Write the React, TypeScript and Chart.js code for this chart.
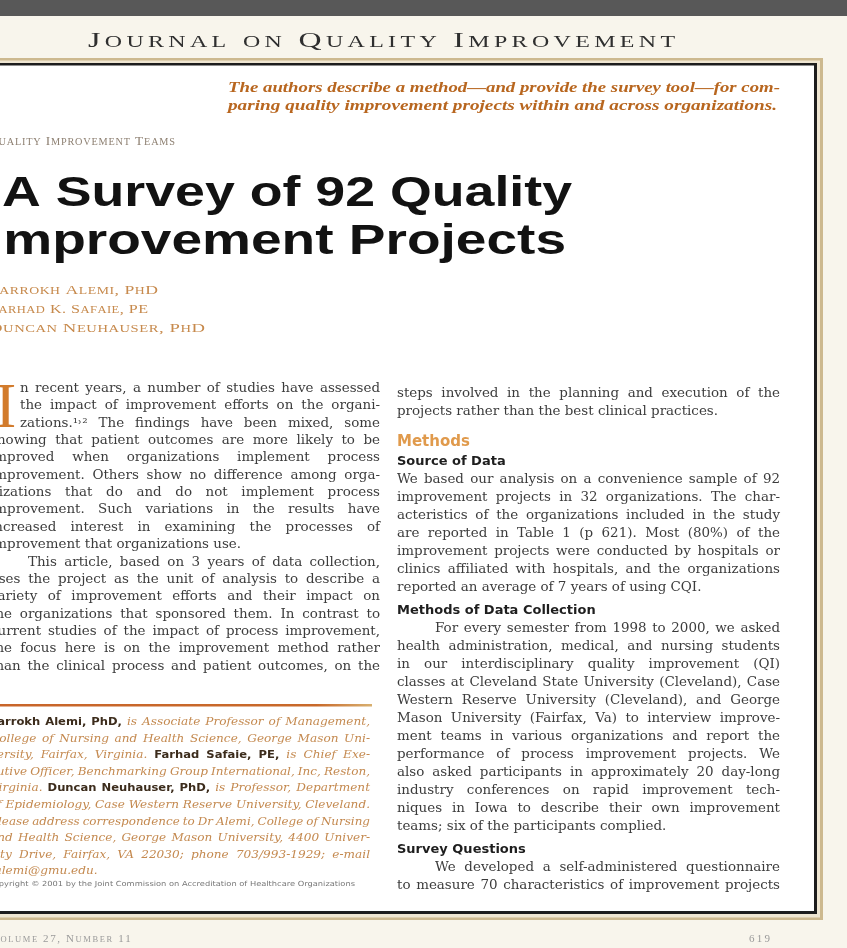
import React, { useEffect, useRef } from "react";
import { Chart, registerables } from "chart.js";

Chart.register(...registerables);

// ---------- content ----------
const journalName = "Journal on Quality Improvement";
const deckLines = [
  "The authors describe a method\u2014and provide the survey tool\u2014for com-",
  "paring quality improvement projects within and across organizations.",
];
const departmentLabel = "Quality Improvement Teams";
const titleLines = ["A Survey of 92 Quality", "Improvement Projects"];
const authorLines = ["Farrokh Alemi, PhD", "Farhad K. Safaie, PE", "Duncan Neuhauser, PhD"];
const dropCapLetter = "I";

const leftParagraphs = [
  {
    indent: false,
    ends: true,
    lines: [
      "n recent years, a number of studies have assessed",
      "the impact of improvement efforts on the organi-",
      "zations.\u00b9\u02d2\u00b2 The findings have been mixed, some",
      "showing that patient outcomes are more likely to be",
      "improved when organizations implement process",
      "improvement. Others show no difference among orga-",
      "nizations that do and do not implement process",
      "improvement. Such variations in the results have",
      "increased interest in examining the processes of",
      "improvement that organizations use.",
    ],
  },
  {
    indent: true,
    ends: false,
    lines: [
      "This article, based on 3 years of data collection,",
      "uses the project as the unit of analysis to describe a",
      "variety of improvement efforts and their impact on",
      "the organizations that sponsored them. In contrast to",
      "current studies of the impact of process improvement,",
      "the focus here is on the improvement method rather",
      "than the clinical process and patient outcomes, on the",
    ],
  },
];

const footnoteLines = [
  "**Farrokh Alemi, PhD,** is Associate Professor of Management,",
  "College of Nursing and Health Science, George Mason Uni-",
  "versity, Fairfax, Virginia. **Farhad Safaie, PE,** is Chief Exe-",
  "cutive Officer, Benchmarking Group International, Inc, Reston,",
  "Virginia. **Duncan Neuhauser, PhD,** is Professor, Department",
  "of Epidemiology, Case Western Reserve University, Cleveland.",
  "Please address correspondence to Dr Alemi, College of Nursing",
  "and Health Science, George Mason University, 4400 Univer-",
  "sity Drive, Fairfax, VA 22030; phone 703/993-1929; e-mail",
  "falemi@gmu.edu.",
];
const copyrightLine =
  "Copyright \u00a9 2001 by the Joint Commission on Accreditation of Healthcare Organizations";

const rightColumn = [
  {
    type: "para",
    indent: false,
    ends: true,
    lines: [
      "steps involved in the planning and execution of the",
      "projects rather than the best clinical practices.",
    ],
  },
  { type: "section", text: "Methods" },
  { type: "subhead", text: "Source of Data" },
  {
    type: "para",
    indent: false,
    ends: true,
    lines: [
      "We based our analysis on a convenience sample of 92",
      "improvement projects in 32 organizations. The char-",
      "acteristics of the organizations included in the study",
      "are reported in Table 1 (p 621). Most (80%) of the",
      "improvement projects were conducted by hospitals or",
      "clinics affiliated with hospitals, and the organizations",
      "reported an average of 7 years of using CQI.",
    ],
  },
  { type: "subhead", text: "Methods of Data Collection" },
  {
    type: "para",
    indent: true,
    ends: true,
    lines: [
      "For every semester from 1998 to 2000, we asked",
      "health administration, medical, and nursing students",
      "in our interdisciplinary quality improvement (QI)",
      "classes at Cleveland State University (Cleveland), Case",
      "Western Reserve University (Cleveland), and George",
      "Mason University (Fairfax, Va) to interview improve-",
      "ment teams in various organizations and report the",
      "performance of process improvement projects. We",
      "also asked participants in approximately 20 day-long",
      "industry conferences on rapid improvement tech-",
      "niques in Iowa to describe their own improvement",
      "teams; six of the participants complied.",
    ],
  },
  { type: "subhead", text: "Survey Questions" },
  {
    type: "para",
    indent: true,
    ends: false,
    lines: [
      "We developed a self-administered questionnaire",
      "to measure 70 characteristics of improvement projects",
    ],
  },
];

const footerLeft = "Volume 27, Number 11";
const footerPage = "619";

// ---------- drawing helpers ----------
const W = 847;
const H = 948;

type Seg = { text: string; font: string; color: string };

function drawLine(
  ctx: CanvasRenderingContext2D,
  segs: Seg[],
  x: number,
  y: number,
  width: number,
  justify: boolean,
  stretch = 1
) {
  const words: { text: string; font: string; color: string; w: number }[] = [];
  for (const s of segs) {
    ctx.font = s.font;
    for (const part of s.text.split(" ")) {
      if (!part) continue;
      words.push({ text: part, font: s.font, color: s.color, w: ctx.measureText(part).width });
    }
  }
  if (!words.length) return;
  ctx.font = segs[0].font;
  const space = ctx.measureText(" ").width;
  const sumW = words.reduce((a, b) => a + b.w, 0);
  const n = words.length;
  let gap = space;
  let scale = stretch;
  const natural = sumW + space * (n - 1);
  if (justify && n > 1) {
    scale = Math.min(stretch, width / (sumW + 0.8 * space * (n - 1)));
    gap = (width / scale - sumW) / (n - 1);
  } else if (natural * stretch > width) {
    scale = width / natural;
  }
  ctx.save();
  ctx.translate(x, y);
  ctx.scale(scale, 1);
  let cx = 0;
  for (const w of words) {
    ctx.font = w.font;
    ctx.fillStyle = w.color;
    ctx.fillText(w.text, cx, 0);
    cx += w.w + gap;
  }
  ctx.restore();
}

function drawFit(
  ctx: CanvasRenderingContext2D,
  text: string,
  font: string,
  color: string,
  x: number,
  y: number,
  width: number
) {
  ctx.font = font;
  const m = ctx.measureText(text).width;
  ctx.save();
  ctx.translate(x, y);
  ctx.scale(width / m, 1);
  ctx.fillStyle = color;
  ctx.fillText(text, 0, 0);
  ctx.restore();
}

function drawSmallCaps(
  ctx: CanvasRenderingContext2D,
  text: string,
  x: number,
  y: number,
  opts: { big: number; small: number; family: string; spacing: number; color: string },
  fitWidth?: number
) {
  const glyphs: { g: string; font: string; w: number }[] = [];
  for (const ch of text) {
    const lower = ch === ch.toLowerCase() && ch !== ch.toUpperCase();
    const size = lower ? opts.small : opts.big;
    const font = `${size}px ${opts.family}`;
    ctx.font = font;
    const g = ch.toUpperCase();
    glyphs.push({ g, font, w: ctx.measureText(g).width });
  }
  const total = glyphs.reduce((a, b) => a + b.w + opts.spacing, 0) - opts.spacing;
  const scale = fitWidth ? fitWidth / total : 1;
  ctx.save();
  ctx.translate(x, y);
  ctx.scale(scale, 1);
  ctx.fillStyle = opts.color;
  let cx = 0;
  for (const gl of glyphs) {
    ctx.font = gl.font;
    ctx.fillText(gl.g, cx, 0);
    cx += gl.w + opts.spacing;
  }
  ctx.restore();
}

function parseBold(line: string, italic: string, bold: string, ic: string, bc: string): Seg[] {
  return line
    .split("**")
    .map((t, i) => ({ text: t, font: i % 2 ? bold : italic, color: i % 2 ? bc : ic }))
    .filter((s) => s.text.length > 0);
}

const BODY_FONT = '12px "DejaVu Serif"';
const BODY_COLOR = "#3c3c3c";
const BODY_STRETCH = 1.12;

function drawPage(ctx: CanvasRenderingContext2D) {
  ctx.save();
  ctx.textBaseline = "alphabetic";
  ctx.textAlign = "left";

  // page paper + top scanner bar
  ctx.fillStyle = "#f8f5ec";
  ctx.fillRect(0, 0, W, H);
  ctx.fillStyle = "#585858";
  ctx.fillRect(0, 0, W, 16);

  // running head
  drawSmallCaps(
    ctx,
    journalName,
    88,
    47,
    { big: 22, small: 16.5, family: '"Liberation Serif", serif', spacing: 3, color: "#2f2f2f" },
    587
  );

  // frame: tan outer, light gap, dark inner, white page
  ctx.fillStyle = "#cdb98f";
  ctx.fillRect(-10, 58, 833, 862);
  ctx.fillStyle = "#efe6d2";
  ctx.fillRect(-10, 60.5, 830, 857);
  ctx.fillStyle = "#1d1d1d";
  ctx.fillRect(-10, 63, 827, 851);
  ctx.fillStyle = "#ffffff";
  ctx.fillRect(-10, 65.5, 824, 845.5);

  // deck
  const deckFont = 'italic bold 14px "Liberation Serif"';
  drawFit(ctx, deckLines[0], deckFont, "#b8661f", 228, 92, 552);
  drawFit(ctx, deckLines[1], deckFont, "#b8661f", 228, 110, 549);

  // department label
  drawSmallCaps(
    ctx,
    departmentLabel,
    -12,
    145,
    { big: 13, small: 10, family: '"Liberation Serif"', spacing: 0.8, color: "#8e8072" },
    187
  );

  // title
  const titleFont = 'bold 42px "Liberation Sans"';
  drawFit(ctx, titleLines[0], titleFont, "#121212", 2, 206, 570);
  drawFit(ctx, titleLines[1], titleFont, "#121212", -12, 254, 578);

  // authors
  const authorEnds = [158, 148, 205];
  authorLines.forEach((a, i) => {
    drawSmallCaps(
      ctx,
      a,
      -11,
      294 + i * 19,
      { big: 13.5, small: 10.5, family: '"Liberation Serif"', spacing: 0.4, color: "#c78a4d" },
      authorEnds[i] + 11
    );
  });

  // drop cap
  ctx.font = '64px "Liberation Serif"';
  ctx.fillStyle = "#d27b2c";
  ctx.fillText(dropCapLetter, -5, 427);

  // left column
  const LX = -10;
  const LR = 380;
  let li = 0;
  const ly0 = 392;
  const llh = 17.35;
  leftParagraphs.forEach((p) => {
    p.lines.forEach((line, j) => {
      const y = ly0 + li * llh;
      let x = LX;
      if (li < 3) x = 20;
      if (p.indent && j === 0) x = LX + 38;
      const last = j === p.lines.length - 1 && p.ends;
      drawLine(ctx, [{ text: line, font: BODY_FONT, color: BODY_COLOR }], x, y, LR - x, !last, BODY_STRETCH);
      li++;
    });
  });

  // footnote rule
  const grad = ctx.createLinearGradient(0, 0, 372, 0);
  grad.addColorStop(0, "#c8652a");
  grad.addColorStop(0.85, "#c8692a");
  grad.addColorStop(1, "#d8b070");
  ctx.fillStyle = grad;
  ctx.fillRect(0, 704, 372, 2.5);

  // footnote
  const fnItalic = 'italic 11px "DejaVu Serif"';
  const fnBold = 'bold 10.5px "DejaVu Sans"';
  footnoteLines.forEach((line, i) => {
    const segs = parseBold(line, fnItalic, fnBold, "#c4894f", "#3c2c1c");
    const last = i === footnoteLines.length - 1;
    drawLine(ctx, segs, -10, 725 + i * 16.6, 380, !last, 1.1);
  });
  drawFit(ctx, copyrightLine, '7px "DejaVu Sans"', "#777777", -12, 886, 367);

  // right column
  const RX = 397;
  const RR = 780;
  let ry = 397;
  let prev = "";
  rightColumn.forEach((b: any) => {
    if (b.type === "section") {
      ry += 31;
      drawLine(ctx, [{ text: b.text, font: 'bold 15px "DejaVu Sans"', color: "#e09a4c" }], RX, ry, 400, false);
      prev = "section";
    } else if (b.type === "subhead") {
      ry += prev === "section" ? 19 : 23;
      drawLine(ctx, [{ text: b.text, font: 'bold 13px "DejaVu Sans"', color: "#1e1e1e" }], RX, ry, 400, false);
      prev = "subhead";
    } else {
      b.lines.forEach((line: string, j: number) => {
        if (prev !== "") ry += 18;
        const x = b.indent && j === 0 ? RX + 38 : RX;
        const last = j === b.lines.length - 1 && b.ends;
        drawLine(ctx, [{ text: line, font: BODY_FONT, color: BODY_COLOR }], x, ry, RR - x, !last, BODY_STRETCH);
        prev = "line";
      });
    }
  });

  // page footer
  drawSmallCaps(ctx, footerLeft, -9, 942, {
    big: 11,
    small: 8.5,
    family: '"Liberation Serif"',
    spacing: 1.6,
    color: "#9a9a9a",
  });
  ctx.font = '11px "Liberation Serif"';
  ctx.fillStyle = "#9a9a9a";
  ctx.textAlign = "right";
  ctx.fillText(footerPage.split("").join("\u2009"), 770, 942);

  ctx.restore();
}

const pagePlugin = {
  id: "journalPage",
  beforeDraw(chart: any) {
    drawPage(chart.ctx);
  },
};

export default function App() {
  const ref = useRef<HTMLCanvasElement | null>(null);
  useEffect(() => {
    document.body.style.margin = "0";
    document.body.style.overflow = "hidden";
    if (!ref.current) return;
    const chart = new Chart(ref.current, {
      type: "scatter",
      data: { datasets: [] },
      options: {
        animation: false,
        responsive: true,
        maintainAspectRatio: false,
        devicePixelRatio: 1,
        layout: { padding: 0 },
        plugins: { legend: { display: false }, tooltip: { enabled: false }, title: { display: false } },
        scales: { x: { display: false }, y: { display: false } },
      },
      plugins: [pagePlugin],
    });
    return () => chart.destroy();
  }, []);
  return (
    <div style={{ position: "relative", width: W, height: H }}>
      <canvas ref={ref} />
    </div>
  );
}
